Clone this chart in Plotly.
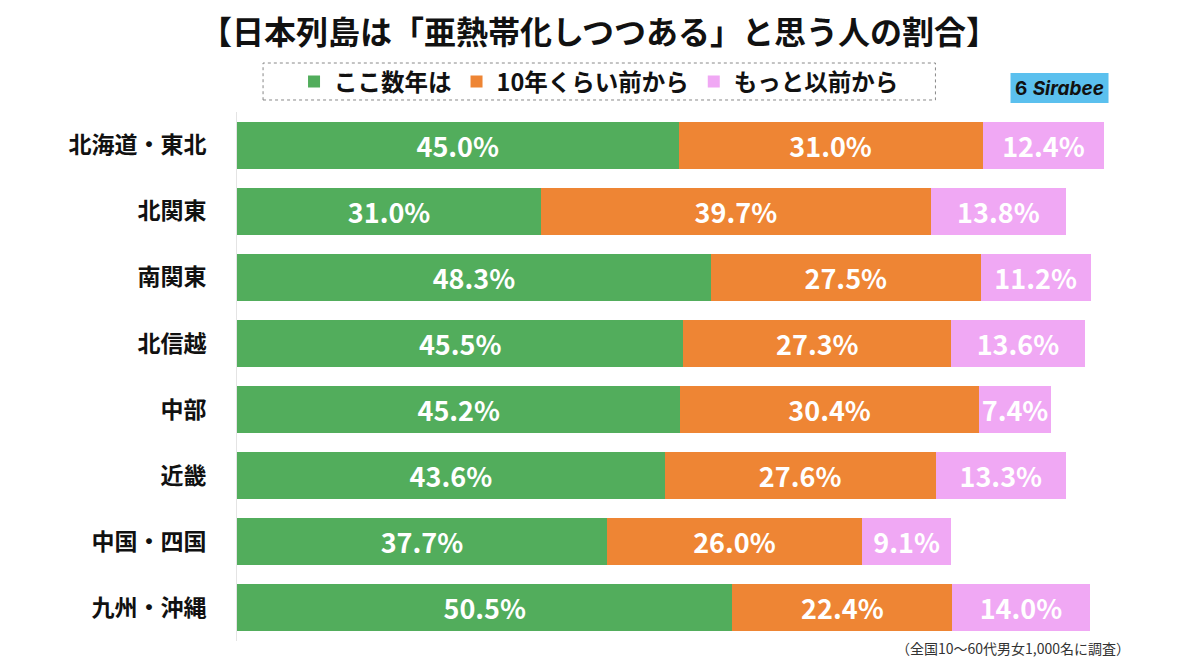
import plotly.graph_objects as go

categories = ["北海道・東北", "北関東", "南関東", "北信越", "中部", "近畿", "中国・四国", "九州・沖縄"]
recent = [45.0, 31.0, 48.3, 45.5, 45.2, 43.6, 37.7, 50.5]
ten_years = [31.0, 39.7, 27.5, 27.3, 30.4, 27.6, 26.0, 22.4]
earlier = [12.4, 13.8, 11.2, 13.6, 7.4, 13.3, 9.1, 14.0]
series_names = ["ここ数年は", "10年くらい前から", "もっと以前から"]
colors = ["#52AD5C", "#EE8534", "#F0A8F4"]

FONT = "Noto Sans CJK JP"

fig = go.Figure()
for name, vals, col in zip(series_names, [recent, ten_years, earlier], colors):
    fig.add_trace(go.Bar(
        y=categories, x=vals, name=name, orientation="h",
        marker=dict(color=col, line=dict(width=0)),
        text=[f"{v:.1f}%" for v in vals],
        textposition="inside", insidetextanchor="middle",
        textfont=dict(color="white", size=27, family=FONT, weight="bold"),
        hoverinfo="skip",
    ))

# page body has an 8px margin, so figure coordinates are offset by 8px
fig.update_layout(
    barmode="stack",
    bargap=0.29,
    width=1200, height=665,
    margin=dict(l=229, r=88, t=104, b=32, autoexpand=False),
    paper_bgcolor="white", plot_bgcolor="white",
    font=dict(family=FONT, color="#111"),
    uniformtext=dict(minsize=27, mode="show"),
    title=dict(text="<b>【日本列島は「亜熱帯化しつつある」と思う人の割合】</b>",
               x=(599 - 8) / 1200, xanchor="center", y=1 - 25 / 665, yanchor="middle",
               font=dict(size=32, family=FONT, color="#111")),
    legend=dict(orientation="h", x=0.41, xanchor="center", y=1.057, yanchor="middle",
                font=dict(size=23.5, family=FONT, color="#111", weight="bold"),
                bgcolor="rgba(0,0,0,0)", itemwidth=30, traceorder="normal"),
    xaxis=dict(range=[0, 90], showgrid=False, showticklabels=False, zeroline=False,
               showline=False, fixedrange=True, automargin=False),
    yaxis=dict(categoryorder="array", categoryarray=categories[::-1],
               showgrid=False, showline=True, linecolor="#e4e4e4", linewidth=1,
               ticks="", ticklabelstandoff=25, automargin=False,
               tickfont=dict(size=23, family=FONT, color="#111", weight="bold")),
    showlegend=True,
)

# dotted legend box
fig.add_shape(type="rect", xref="paper", yref="paper",
              x0=0.0295, x1=0.791, y0=1.0227, y1=1.0926,
              line=dict(color="#888", width=1, dash="dot"), fillcolor="rgba(0,0,0,0)")

# logo
fig.add_shape(type="rect", xref="paper", yref="paper",
              x0=0.876, x1=0.987, y0=1.017, y1=1.0737,
              line=dict(width=0), fillcolor="#5BC0EE")
fig.add_annotation(xref="paper", yref="paper", x=0.9315, y=1.045,
                   text="<b>6</b> <b><i>Sirabee</i></b>", showarrow=False,
                   font=dict(size=19, family="Inter", color="#111"),
                   xanchor="center", yanchor="middle")

# footnote
fig.add_annotation(xref="paper", yref="paper", x=1.014, y=-0.013,
                   text="（全国10〜60代男女1,000名に調査）", showarrow=False,
                   font=dict(size=14, family=FONT, color="#333"),
                   xanchor="right", yanchor="middle")

fig.write_html("out.html")
